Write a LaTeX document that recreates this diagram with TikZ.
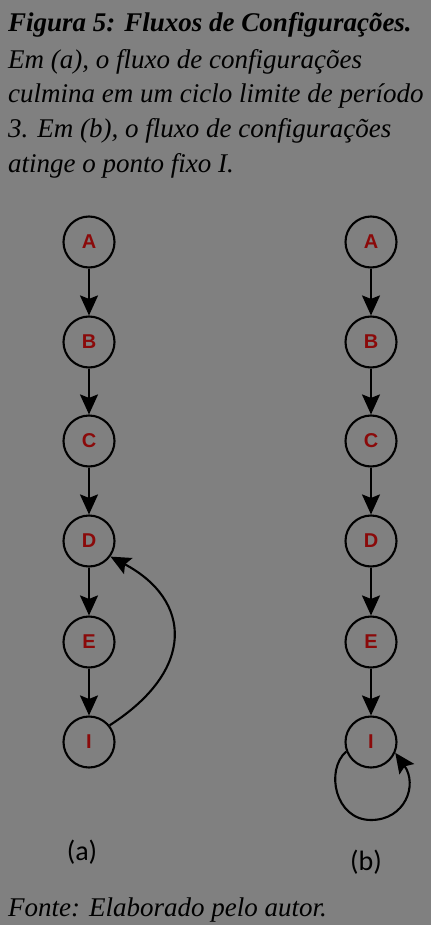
\documentclass[tikz,border=0pt]{standalone}
\usepackage{fontspec}
\setmainfont{Liberation Serif}
\newfontfamily\labelfont{Carlito}
\newfontfamily\nodefont{Liberation Sans}
\usetikzlibrary{arrows.meta}
\definecolor{bggray}{HTML}{808080}
\definecolor{letterred}{HTML}{8A0A0A}
\tikzset{
  state/.style={circle, draw=black, line width=2.1pt, minimum size=51pt, inner sep=0pt,
    font=\nodefont\bfseries\fontsize{20}{20}\selectfont, text=letterred},
  flow/.style={line width=2.1pt, -{Stealth[length=20pt,width=18pt,inset=3.5pt]}},
  capline/.style={anchor=base west, inner sep=0pt, font=\fontsize{27}{30}\selectfont\itshape},
  sublabel/.style={font=\labelfont\fontsize{28}{30}\selectfont, inner sep=0pt}
}
\begin{document}
\begin{tikzpicture}[x=1pt,y=-1pt]
  \fill[bggray] (0,0) rectangle (431,925);
  \useasboundingbox (0,0) rectangle (431,925);

  % caption
  \node[capline, font=\fontsize{27}{30}\selectfont\bfseries\itshape] (t1) at (8,32) {Figura 5: Fluxos de Configurações.};
  \node[capline] (t2) at (8,69) {Em (a), o fluxo de configurações};
  \node[capline] (t3) at (8,103) {culmina em um ciclo limite de período};
  \node[capline] (t4) at (8,138) {3. Em (b), o fluxo de configurações};
  \node[capline] (t5) at (8,173) {atinge o ponto fixo I.};

  % flow (a)
  \node[state] (aA) at (89,242) {A};
  \node[state] (aB) at (89,342) {B};
  \node[state] (aC) at (89,441) {C};
  \node[state] (aD) at (89,541) {D};
  \node[state] (aE) at (89,642) {E};
  \node[state] (aI) at (89,742) {I};
  \draw[flow] (aA) -- (aB);
  \draw[flow] (aB) -- (aC);
  \draw[flow] (aC) -- (aD);
  \draw[flow] (aD) -- (aE);
  \draw[flow] (aE) -- (aI);
  \draw[flow] (aI.39) .. controls (196,670) and (192,600) .. (aD.-36);

  % flow (b)
  \node[state] (bA) at (371,242) {A};
  \node[state] (bB) at (371,342) {B};
  \node[state] (bC) at (371,441) {C};
  \node[state] (bD) at (371,541) {D};
  \node[state] (bE) at (371,642) {E};
  \node[state] (bI) at (371,742) {I};
  \draw[flow] (bA) -- (bB);
  \draw[flow] (bB) -- (bC);
  \draw[flow] (bC) -- (bD);
  \draw[flow] (bD) -- (bE);
  \draw[flow] (bE) -- (bI);
  \draw[flow] (bI.201) .. controls (325,770) and (335,820) .. (371,820)
                       .. controls (405,820) and (418,785) .. (bI.-24);

  % sub-labels
  \node[sublabel] (la) at (82,852) {(a)};
  \node[sublabel] (lb) at (366,862) {(b)};

  % source
  \node[capline] (src) at (8,916) {Fonte: Elaborado pelo autor.};
\end{tikzpicture}
\end{document}
